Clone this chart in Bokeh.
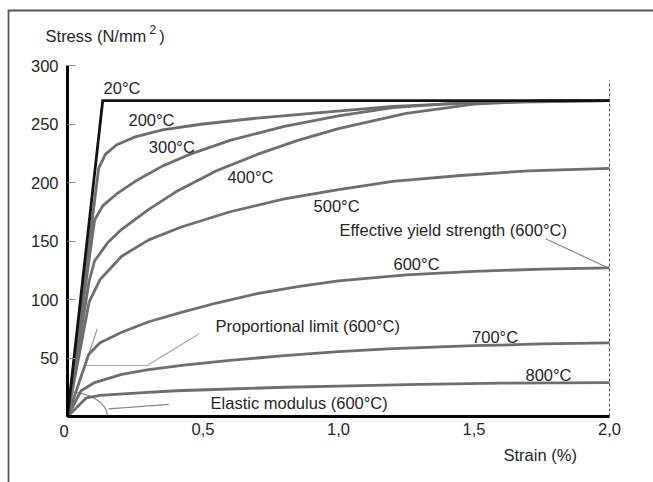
import numpy as np
from bokeh.plotting import figure
from bokeh.models import Range1d, LinearAxis, FixedTicker, CustomJSTickFormatter
from bokeh.core.properties import value
from bokeh.embed import file_html
from bokeh.resources import INLINE

# ---- data (strain in %, stress in N/mm2) ----
strain_20 = [0, 0.13, 2.0]
stress_20 = [0, 270, 270]

strain_200 = [0, 0.115, 0.14, 0.18, 0.25, 0.35, 0.5, 0.7, 0.9, 1.2, 1.5, 2.0]
stress_200 = [0, 212, 224, 232, 239, 245, 250, 255, 259, 265, 268, 270]

strain_300 = [0, 0.1, 0.13, 0.18, 0.25, 0.35, 0.45, 0.6, 0.8, 1.0, 1.2, 1.5, 2.0]
stress_300 = [0, 168, 180, 190, 201, 214, 224, 236, 248, 257, 264, 269, 270]

strain_400 = [0, 0.08, 0.1, 0.15, 0.2, 0.3, 0.4, 0.55, 0.7, 0.85, 1.0, 1.25, 1.5, 1.75, 2.0]
stress_400 = [0, 116, 133, 149, 160, 177, 192, 210, 224, 236, 246, 259, 267, 270, 270]

strain_500 = [0, 0.08, 0.12, 0.2, 0.3, 0.42, 0.6, 0.8, 1.0, 1.2, 1.45, 1.7, 2.0]
stress_500 = [0, 98, 117, 137, 151, 162, 175, 186, 194, 201, 206, 210, 212]

strain_600 = [0, 0.078, 0.12, 0.2, 0.3, 0.42, 0.55, 0.7, 0.85, 1.0, 1.25, 1.5, 1.75, 2.0]
stress_600 = [0, 53, 63, 72, 81, 89, 97, 105, 111, 116, 121, 124, 126, 127]

strain_700 = [0, 0.05, 0.1, 0.2, 0.3, 0.43, 0.6, 0.8, 1.0, 1.2, 1.5, 1.75, 2.0]
stress_700 = [0, 22, 29, 36, 40, 44, 48, 52, 55.5, 58, 60.5, 62, 63]

strain_800 = [0, 0.07, 0.12, 0.25, 0.4, 0.6, 0.8, 1.0, 1.3, 1.6, 2.0]
stress_800 = [0, 16, 18, 20, 22, 23.5, 25, 26, 27.5, 28.5, 29]

temp_labels = ["20°C", "200°C", "300°C", "400°C", "500°C", "600°C", "700°C", "800°C"]
temp_label_x = [0.133, 0.225, 0.30, 0.59, 0.908, 1.203, 1.493, 1.69]
temp_label_y = [281, 253, 230, 205, 179.5, 130, 67.8, 35.6]

x_ticks = [0, 0.5, 1.0, 1.5, 2.0]
y_ticks = [50, 100, 150, 200, 250, 300]

strain_max = 2.0
stress_axis_max = 300
dashed_top = 287

# annotation data
prop_tangent_x = [0.078, 0.11]
prop_tangent_y = [53, 75]
prop_leader_x = [0.07, 0.294, 0.486]
prop_leader_y = [43.6, 43.6, 70.7]
yield_leader_x = [1.764, 1.99]
yield_leader_y = [151.9, 127.6]
modulus_leader_x = [0.152, 0.374]
modulus_leader_y = [6.6, 10.3]
arc_rx, arc_ry = 0.147, 21.0

FONT = "Liberation Sans"
FS = "16.5px"
TXT = "#262626"
GRAY = "#6e6e6e"

X0, X1 = -0.2472, 2.1624
Y0, Y1 = -56.41, 355.56

p = figure(width=653, height=482, output_backend="svg", toolbar_location=None,
           x_range=Range1d(X0, X1), y_range=Range1d(Y0, Y1),
           x_axis_type=None, y_axis_type=None, min_border=0,
           min_border_left=0, min_border_right=0, min_border_top=0, min_border_bottom=0)
p.outline_line_color = None
p.background_fill_color = "white"
p.border_fill_color = "white"

# frame lines (left and top), meeting at the top-left corner
frame_left, frame_top = -0.2177, 347.0
p.line([frame_left, frame_left, X1], [Y0, frame_top, frame_top],
       line_color="#555555", line_width=1.8, line_join="miter")

# dashed line at max strain
p.line([strain_max, strain_max], [0, dashed_top], line_color="#555555", line_width=1, line_dash="3 2")

# annotations
p.line(prop_tangent_x, prop_tangent_y, line_color="#9a9a9a", line_width=1.2)
p.line(prop_leader_x, prop_leader_y, line_color="#a8a8a8", line_width=1.2)
p.line(yield_leader_x, yield_leader_y, line_color="#8a8a8a", line_width=1.2)
p.line(modulus_leader_x, modulus_leader_y, line_color="#8a8a8a", line_width=1.2)
t = np.linspace(0, np.pi / 2, 40)
p.line(arc_rx * np.cos(t), arc_ry * np.sin(t), line_color="#8a8a8a", line_width=1.2)

# curves
for xs, ys in [(strain_800, stress_800), (strain_700, stress_700), (strain_600, stress_600),
               (strain_500, stress_500), (strain_400, stress_400), (strain_300, stress_300),
               (strain_200, stress_200)]:
    p.line(xs, ys, line_color=GRAY, line_width=2.8, line_join="round")
p.line(strain_20, stress_20, line_color="#111111", line_width=2.8, line_join="miter")

# axes
xaxis = LinearAxis(fixed_location=0, bounds=(0, strain_max), ticker=FixedTicker(ticks=x_ticks),
                   formatter=CustomJSTickFormatter(code="return tick == 0 ? '' : tick.toFixed(1).replace('.', ',');"))
xaxis.axis_line_width = 3
xaxis.axis_line_color = "#000000"
xaxis.major_tick_in = 0
xaxis.major_tick_out = 0
xaxis.minor_tick_line_color = None
xaxis.major_label_text_font = FONT
xaxis.major_label_text_font_size = FS
xaxis.major_label_text_color = TXT
xaxis.major_label_standoff = 6
p.add_layout(xaxis, "below")

yaxis = LinearAxis(fixed_location=0, bounds=(0, stress_axis_max), ticker=FixedTicker(ticks=y_ticks))
yaxis.axis_line_width = 3
yaxis.axis_line_color = "#000000"
yaxis.major_tick_in = 8
yaxis.major_tick_out = 0
yaxis.major_tick_line_color = "#8a8a8a"
yaxis.minor_tick_line_color = None
yaxis.major_label_text_font = FONT
yaxis.major_label_text_font_size = FS
yaxis.major_label_text_color = TXT
yaxis.major_label_standoff = 9
p.add_layout(yaxis, "left")

# texts
p.text(x=temp_label_x, y=temp_label_y, text=temp_labels, text_font=value(FONT),
       text_font_size=FS, text_color=TXT, text_baseline="middle", text_align="left")

ann_text = ["Effective yield strength (600°C)", "Proportional limit (600°C)", "Elastic modulus (600°C)",
            "Stress (N/mm", ")", "Strain (%)", "0"]
ann_x = [1.004, 0.546, 0.528, -0.081, 0.339, 1.609, -0.0295]
ann_y = [159, 77, 11.4, 325.6, 325.6, -33.3, -12]
p.text(x=ann_x, y=ann_y, text=ann_text, text_font=value(FONT), text_font_size=FS,
       text_color=TXT, text_baseline="middle", text_align="left")
p.text(x=[0.303], y=[330.8], text=["2"], text_font=value(FONT), text_font_size="12px",
       text_color=TXT, text_baseline="middle", text_align="left")

open("out.html", "w").write(file_html(p, INLINE))
